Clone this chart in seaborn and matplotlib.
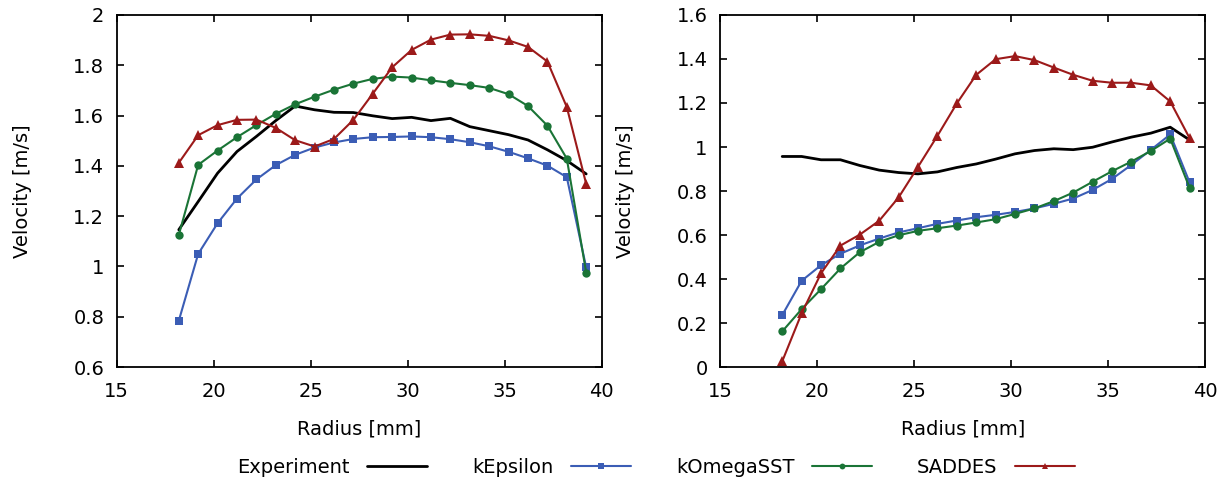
import numpy as np
import pandas as pd
import matplotlib
matplotlib.use("Agg")
import matplotlib.pyplot as plt
import seaborn as sns

radius = [18.2, 19.2, 20.2, 21.2, 22.2, 23.2, 24.2, 25.2, 26.2, 27.2, 28.2,
          29.2, 30.2, 31.2, 32.2, 33.2, 34.2, 35.2, 36.2, 37.2, 38.2, 39.2]

# Left panel
left_experiment = [1.146, 1.258, 1.371, 1.457, 1.517, 1.580, 1.638, 1.623, 1.613, 1.612, 1.599,
                   1.588, 1.593, 1.580, 1.589, 1.556, 1.540, 1.524, 1.503, 1.464, 1.421, 1.368]
left_kepsilon = [0.784, 1.050, 1.172, 1.270, 1.346, 1.403, 1.444, 1.473, 1.493, 1.507, 1.514,
                 1.515, 1.517, 1.514, 1.506, 1.494, 1.478, 1.456, 1.430, 1.401, 1.355, 0.996]
left_komegasst = [1.125, 1.404, 1.461, 1.514, 1.562, 1.607, 1.645, 1.675, 1.703, 1.727, 1.746,
                  1.755, 1.751, 1.740, 1.730, 1.721, 1.710, 1.685, 1.638, 1.560, 1.429, 0.976]
left_saddes = [1.412, 1.522, 1.562, 1.583, 1.584, 1.551, 1.502, 1.477, 1.507, 1.583, 1.687,
               1.792, 1.861, 1.902, 1.922, 1.923, 1.917, 1.899, 1.873, 1.815, 1.634, 1.328]

# Right panel
right_experiment = [0.957, 0.957, 0.942, 0.942, 0.916, 0.895, 0.884, 0.878, 0.887, 0.907, 0.923,
                    0.945, 0.969, 0.984, 0.992, 0.988, 0.999, 1.023, 1.045, 1.063, 1.090, 1.032]
right_kepsilon = [0.236, 0.392, 0.463, 0.515, 0.553, 0.584, 0.612, 0.631, 0.651, 0.666, 0.681,
                  0.692, 0.705, 0.721, 0.742, 0.766, 0.805, 0.855, 0.919, 0.987, 1.057, 0.839]
right_komegasst = [0.162, 0.263, 0.354, 0.448, 0.522, 0.569, 0.599, 0.619, 0.631, 0.643, 0.657,
                   0.672, 0.696, 0.721, 0.754, 0.793, 0.842, 0.890, 0.934, 0.982, 1.038, 0.814]
right_saddes = [0.026, 0.244, 0.426, 0.552, 0.602, 0.665, 0.771, 0.910, 1.051, 1.198, 1.328,
                1.399, 1.413, 1.395, 1.361, 1.328, 1.301, 1.292, 1.292, 1.280, 1.207, 1.040]

series_names = ["Experiment", "kEpsilon", "kOmegaSST", "SADDES"]

sns.set_style("ticks")
plt.rcParams['font.family'] = ['DejaVu Sans']
plt.rcParams['text.color'] = 'black'
plt.rcParams['axes.labelcolor'] = 'black'
plt.rcParams['xtick.color'] = 'black'
plt.rcParams['ytick.color'] = 'black'

FS = 14

fig = plt.figure(figsize=(12.31, 4.83), dpi=100)
ax1 = fig.add_axes([0.0948, 0.240, 0.394, 0.729])
ax2 = fig.add_axes([0.585, 0.240, 0.394, 0.729])

styles = {
    "Experiment": dict(color="black", lw=2.0, marker=None),
    "kEpsilon": dict(color="#3b5db5", lw=1.5, marker="s", ms=6),
    "kOmegaSST": dict(color="#1a7436", lw=1.5, marker="o", ms=6),
    "SADDES": dict(color="#9c1a1a", lw=1.5, marker="^", ms=6.5),
}

def draw(ax, data, ylim, yticks, yticklabels):
    for name, vals in zip(series_names, data):
        st = styles[name]
        kw = dict(color=st["color"], linewidth=st["lw"], label=name)
        if st["marker"]:
            kw.update(marker=st["marker"], markersize=st["ms"], markeredgewidth=0)
        sns.lineplot(x=radius, y=vals, ax=ax, sort=False, estimator=None, **kw)
    ax.set_xlim(15, 40)
    ax.set_ylim(*ylim)
    ax.set_xticks([15, 20, 25, 30, 35, 40])
    ax.set_yticks(yticks)
    ax.set_yticklabels(yticklabels)
    ax.tick_params(direction="in", length=5, width=1.2, top=True, right=True,
                   labelsize=FS, colors="black", labelcolor="black")
    ax.tick_params(axis="y", pad=9)
    ax.tick_params(axis="x", pad=11)
    for sp in ax.spines.values():
        sp.set_linewidth(1.3)
        sp.set_color("black")
    ax.set_xlabel("Radius [mm]", fontsize=FS, labelpad=13, color="black")
    ax.set_ylabel("Velocity [m/s]", fontsize=FS, labelpad=30, color="black")
    leg = ax.get_legend()
    if leg:
        leg.remove()

draw(ax1, [left_experiment, left_kepsilon, left_komegasst, left_saddes],
     (0.6, 2.0), [0.6, 0.8, 1.0, 1.2, 1.4, 1.6, 1.8, 2.0],
     ["0.6", "0.8", "1", "1.2", "1.4", "1.6", "1.8", "2"])
draw(ax2, [right_experiment, right_kepsilon, right_komegasst, right_saddes],
     (0.0, 1.6), [0, 0.2, 0.4, 0.6, 0.8, 1.0, 1.2, 1.4, 1.6],
     ["0", "0.2", "0.4", "0.6", "0.8", "1", "1.2", "1.4", "1.6"])

handles, labels = ax1.get_legend_handles_labels()
leg = fig.legend(handles, labels, loc="center", bbox_to_anchor=(0.533, 0.033), ncol=4,
                 frameon=False, markerfirst=False, fontsize=FS, handlelength=3.1,
                 handletextpad=0.9, columnspacing=2.3, markerscale=0.7)
for t in leg.get_texts():
    t.set_color("black")

fig.savefig("out.png", dpi=100)
